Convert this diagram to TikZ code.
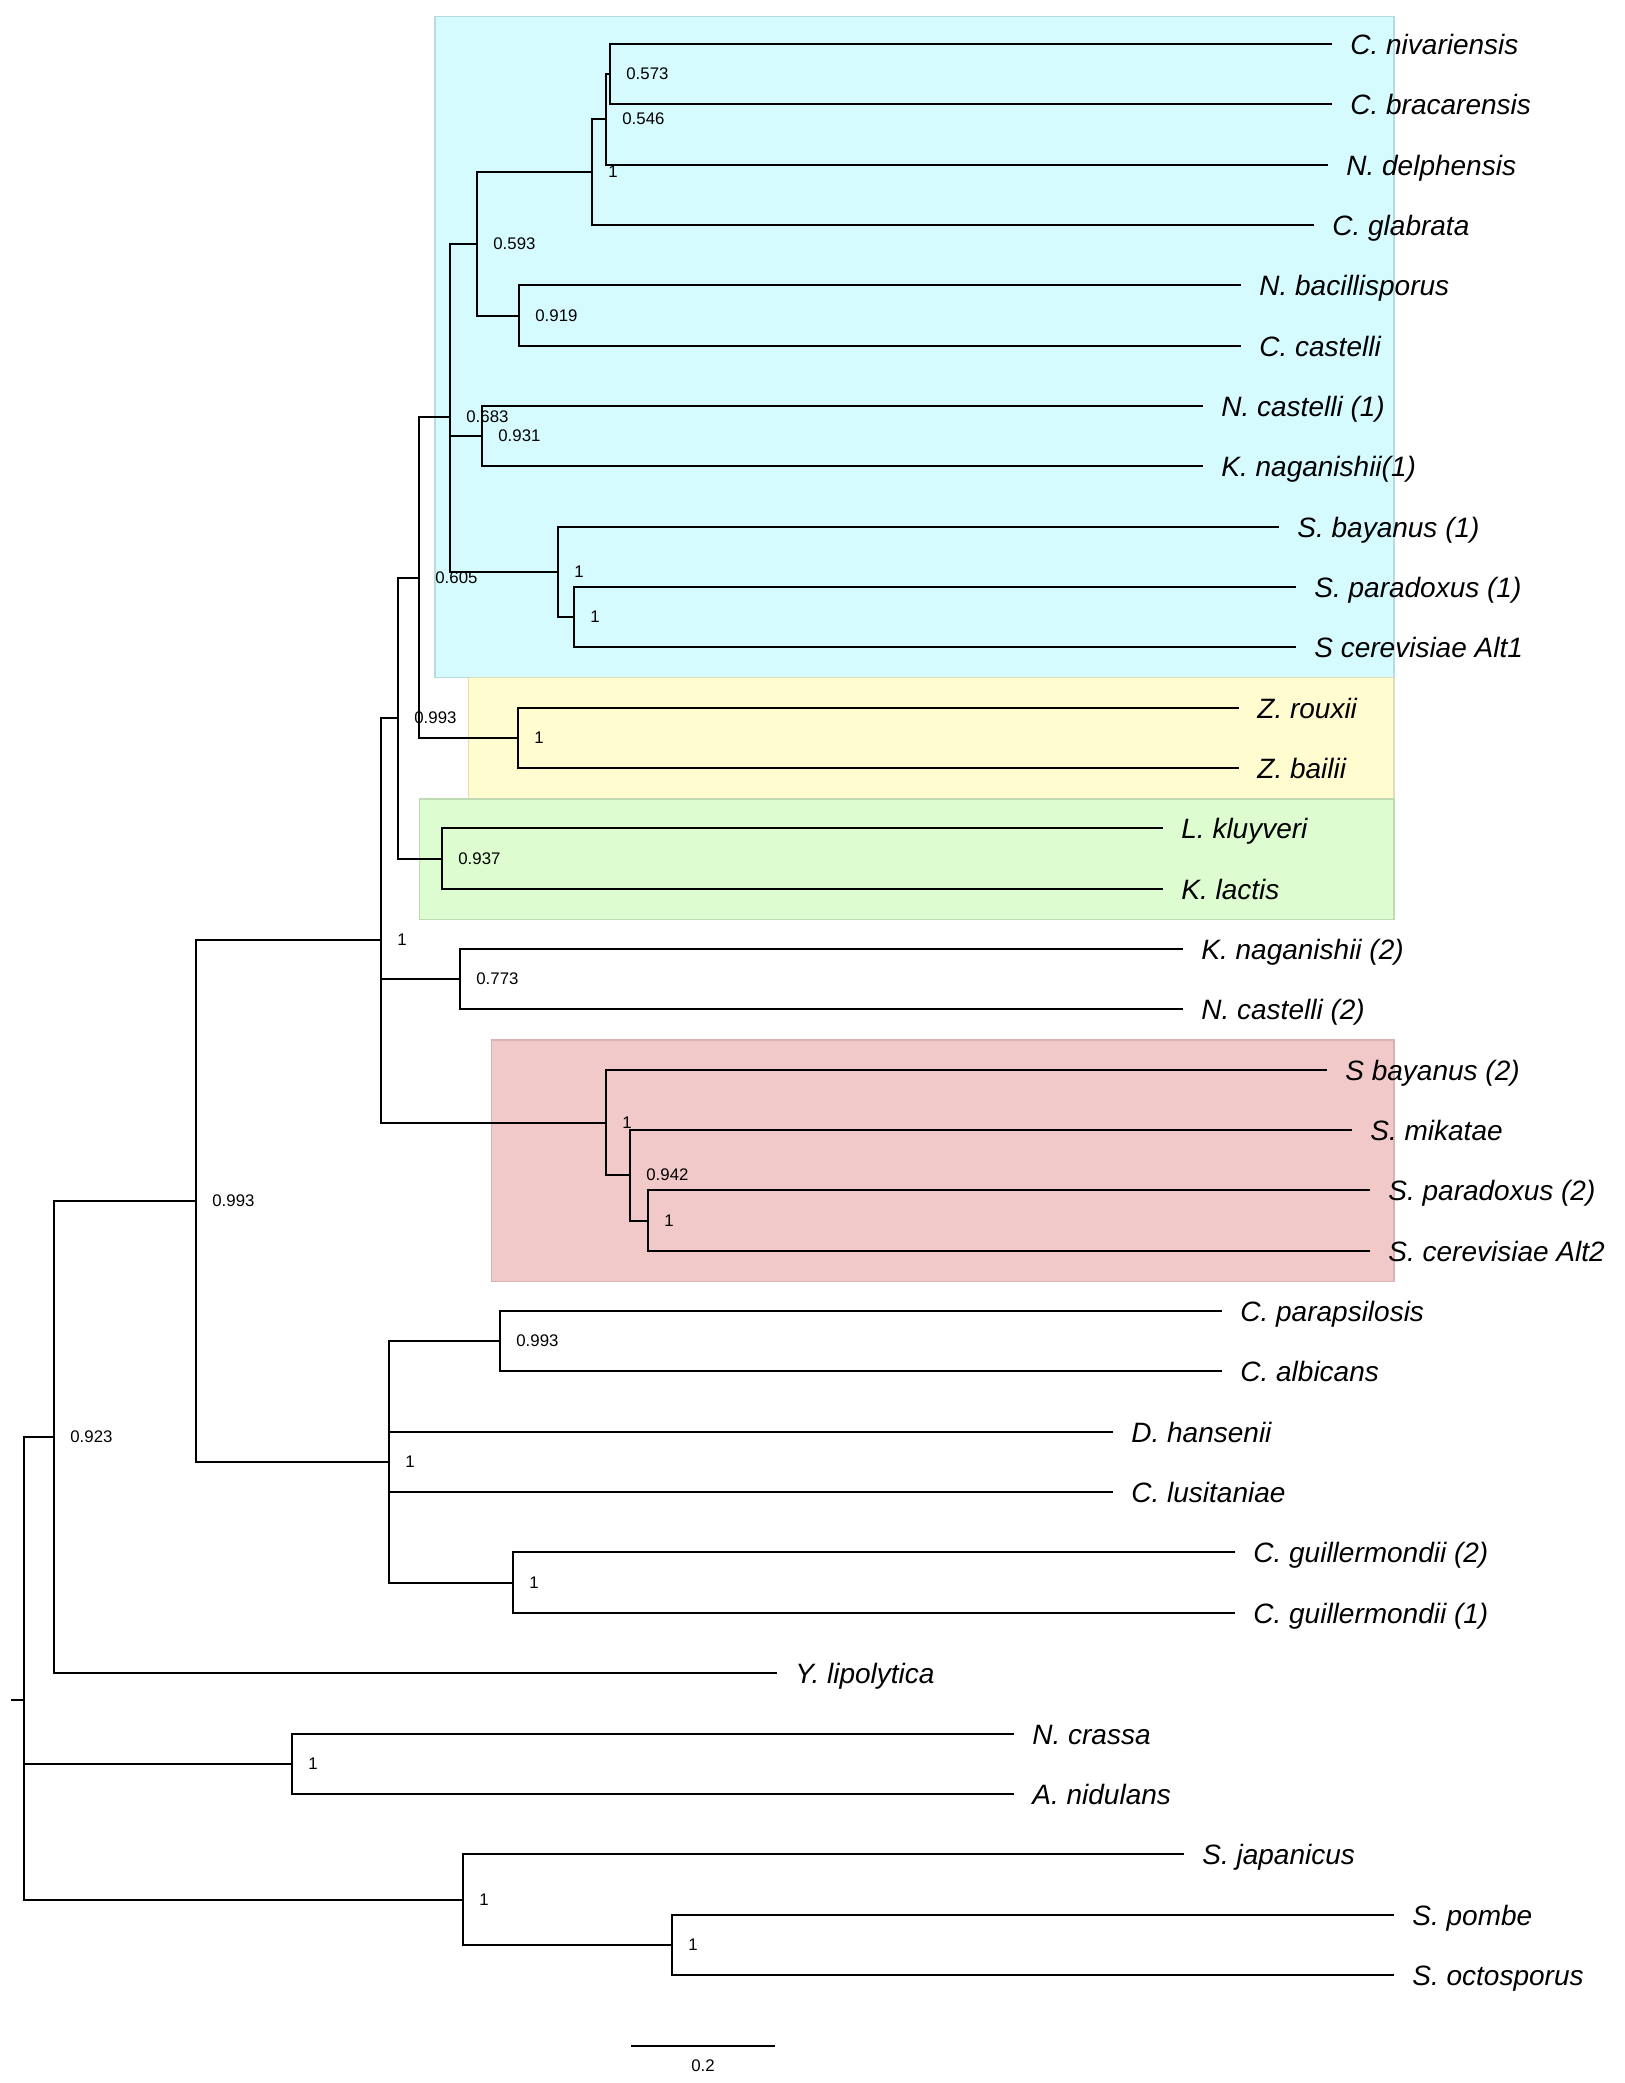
\documentclass[tikz,border=0pt]{standalone}
\usepackage{fontspec}
\setmainfont{Liberation Sans}
\usepackage{tikz}
\usetikzlibrary{positioning, calc}
\definecolor{cladecyan}{HTML}{D6FBFF}
\definecolor{cladecyanline}{HTML}{B6DCE0}
\definecolor{cladeyellow}{HTML}{FFFDCF}
\definecolor{cladeyellowline}{HTML}{DEDCB9}
\definecolor{cladegreen}{HTML}{DDFCCF}
\definecolor{cladegreenline}{HTML}{BFDBB5}
\definecolor{cladepink}{HTML}{F2C9C9}
\definecolor{cladepinkline}{HTML}{D8B3B3}

\begin{document}
\begin{tikzpicture}[x=0.5pt, y=-0.5pt,
    branch/.style={line width=0.8pt, black},
    clade/.style={line width=0.6pt},
    taxon/.style={inner sep=0pt, text height=10pt, text depth=0pt,
      font=\fontsize{14pt}{16pt}\selectfont\itshape},
    support/.style={inner sep=0pt, font=\fontsize{8.4pt}{10pt}\selectfont}]

    \useasboundingbox (0,0) rectangle (1624,2083);

    % Clade boxes
    \draw[clade, fill=cladecyan, draw=cladecyanline] (435,16.5) rectangle (1394,677.5);
    \draw[clade, fill=cladeyellow, draw=cladeyellowline] (468.5,677.5) rectangle (1394,799);
    \draw[clade, fill=cladegreen, draw=cladegreenline] (419.5,799) rectangle (1394,919.5);
    \draw[clade, fill=cladepink, draw=cladepinkline] (491.5,1040) rectangle (1394,1281.5);

    % Tips
    \coordinate (t1) at (1332,44);
    \coordinate (t2) at (1332,104);
    \coordinate (t3) at (1328,165);
    \coordinate (t4) at (1314,225);
    \coordinate (t5) at (1241,285);
    \coordinate (t6) at (1241,346);
    \coordinate (t7) at (1203,406);
    \coordinate (t8) at (1203,466);
    \coordinate (t9) at (1279,527);
    \coordinate (t10) at (1296,587);
    \coordinate (t11) at (1296,647);
    \coordinate (t12) at (1239,708);
    \coordinate (t13) at (1239,768);
    \coordinate (t14) at (1163,828);
    \coordinate (t15) at (1163,889);
    \coordinate (t16) at (1183,949);
    \coordinate (t17) at (1183,1009);
    \coordinate (t18) at (1327,1070);
    \coordinate (t19) at (1352,1130);
    \coordinate (t20) at (1370,1190);
    \coordinate (t21) at (1370,1251);
    \coordinate (t22) at (1222,1311);
    \coordinate (t23) at (1222,1371);
    \coordinate (t24) at (1113,1432);
    \coordinate (t25) at (1113,1492);
    \coordinate (t26) at (1235,1552);
    \coordinate (t27) at (1235,1613);
    \coordinate (t28) at (777,1673);
    \coordinate (t29) at (1014,1734);
    \coordinate (t30) at (1014,1794);
    \coordinate (t31) at (1184,1854);
    \coordinate (t32) at (1394,1915);
    \coordinate (t33) at (1394,1975);

    % Inner nodes
    \coordinate (na) at (610,74);
    \coordinate (nb) at (606,119);
    \coordinate (nc) at (592,172);
    \coordinate (nd) at (519,316);
    \coordinate (ne) at (477,244);
    \coordinate (nf) at (482,436);
    \coordinate (ng) at (574,617);
    \coordinate (nh) at (558,572);
    \coordinate (ni) at (450,417);
    \coordinate (nj) at (518,738);
    \coordinate (nk) at (419,578);
    \coordinate (nl) at (442,859);
    \coordinate (nm) at (398,718);
    \coordinate (nn) at (460,979);
    \coordinate (no) at (648,1221);
    \coordinate (np) at (630,1175);
    \coordinate (nq) at (606,1123);
    \coordinate (nr) at (381,940);
    \coordinate (ns) at (500,1341);
    \coordinate (nt) at (513,1583);
    \coordinate (nu) at (389,1462);
    \coordinate (nv) at (196,1201);
    \coordinate (nw) at (54,1437);
    \coordinate (nx) at (292,1764);
    \coordinate (ny) at (672,1945);
    \coordinate (nz) at (463,1900);
    \coordinate (root) at (24,1700);
    \coordinate (stub) at (11,1700);

    % Branches
    \draw[branch] (na) |- (t1) (na) |- (t2);
    \draw[branch] (nb) |- (na) (nb) |- (t3);
    \draw[branch] (nc) |- (nb) (nc) |- (t4);
    \draw[branch] (nd) |- (t5) (nd) |- (t6);
    \draw[branch] (ne) |- (nc) (ne) |- (nd);
    \draw[branch] (nf) |- (t7) (nf) |- (t8);
    \draw[branch] (ng) |- (t10) (ng) |- (t11);
    \draw[branch] (nh) |- (t9) (nh) |- (ng);
    \draw[branch] (ni) |- (ne) (ni) |- (nf) (ni) |- (nh);
    \draw[branch] (nj) |- (t12) (nj) |- (t13);
    \draw[branch] (nk) |- (ni) (nk) |- (nj);
    \draw[branch] (nl) |- (t14) (nl) |- (t15);
    \draw[branch] (nm) |- (nk) (nm) |- (nl);
    \draw[branch] (nn) |- (t16) (nn) |- (t17);
    \draw[branch] (no) |- (t20) (no) |- (t21);
    \draw[branch] (np) |- (t19) (np) |- (no);
    \draw[branch] (nq) |- (t18) (nq) |- (np);
    \draw[branch] (nr) |- (nm) (nr) |- (nn) (nr) |- (nq);
    \draw[branch] (ns) |- (t22) (ns) |- (t23);
    \draw[branch] (nt) |- (t26) (nt) |- (t27);
    \draw[branch] (nu) |- (ns) (nu) |- (t24) (nu) |- (t25) (nu) |- (nt);
    \draw[branch] (nv) |- (nr) (nv) |- (nu);
    \draw[branch] (nw) |- (nv) (nw) |- (t28);
    \draw[branch] (nx) |- (t29) (nx) |- (t30);
    \draw[branch] (ny) |- (t32) (ny) |- (t33);
    \draw[branch] (nz) |- (t31) (nz) |- (ny);
    \draw[branch] (root) |- (nw) (root) |- (nx) (root) |- (nz);
    \draw[branch] (stub) -- (root);

    % Taxa
    \node[taxon, right=9pt of t1] (l1) {C. nivariensis};
    \node[taxon, right=9pt of t2] (l2) {C. bracarensis};
    \node[taxon, right=9pt of t3] (l3) {N. delphensis};
    \node[taxon, right=9pt of t4] (l4) {C. glabrata};
    \node[taxon, right=9pt of t5] (l5) {N. bacillisporus};
    \node[taxon, right=9pt of t6] (l6) {C. castelli};
    \node[taxon, right=9pt of t7] (l7) {N. castelli (1)};
    \node[taxon, right=9pt of t8] (l8) {K. naganishii(1)};
    \node[taxon, right=9pt of t9] (l9) {S. bayanus (1)};
    \node[taxon, right=9pt of t10] (l10) {S. paradoxus (1)};
    \node[taxon, right=9pt of t11] (l11) {S cerevisiae Alt1};
    \node[taxon, right=9pt of t12] (l12) {Z. rouxii};
    \node[taxon, right=9pt of t13] (l13) {Z. bailii};
    \node[taxon, right=9pt of t14] (l14) {L. kluyveri};
    \node[taxon, right=9pt of t15] (l15) {K. lactis};
    \node[taxon, right=9pt of t16] (l16) {K. naganishii (2)};
    \node[taxon, right=9pt of t17] (l17) {N. castelli (2)};
    \node[taxon, right=9pt of t18] (l18) {S bayanus (2)};
    \node[taxon, right=9pt of t19] (l19) {S. mikatae};
    \node[taxon, right=9pt of t20] (l20) {S. paradoxus (2)};
    \node[taxon, right=9pt of t21] (l21) {S. cerevisiae Alt2};
    \node[taxon, right=9pt of t22] (l22) {C. parapsilosis};
    \node[taxon, right=9pt of t23] (l23) {C. albicans};
    \node[taxon, right=9pt of t24] (l24) {D. hansenii};
    \node[taxon, right=9pt of t25] (l25) {C. lusitaniae};
    \node[taxon, right=9pt of t26] (l26) {C. guillermondii (2)};
    \node[taxon, right=9pt of t27] (l27) {C. guillermondii (1)};
    \node[taxon, right=9pt of t28] (l28) {Y. lipolytica};
    \node[taxon, right=9pt of t29] (l29) {N. crassa};
    \node[taxon, right=9pt of t30] (l30) {A. nidulans};
    \node[taxon, right=9pt of t31] (l31) {S. japanicus};
    \node[taxon, right=9pt of t32] (l32) {S. pombe};
    \node[taxon, right=9pt of t33] (l33) {S. octosporus};

    % Support values
    \node[support, right=8pt of na] (sa) {0.573};
    \node[support, right=8pt of nb] (sb) {0.546};
    \node[support, right=8pt of nc] (sc) {1};
    \node[support, right=8pt of nd] (sd) {0.919};
    \node[support, right=8pt of ne] (se) {0.593};
    \node[support, right=8pt of nf] (sf) {0.931};
    \node[support, right=8pt of ng] (sg) {1};
    \node[support, right=8pt of nh] (sh) {1};
    \node[support, right=8pt of ni] (si) {0.683};
    \node[support, right=8pt of nj] (sj) {1};
    \node[support, right=8pt of nk] (sk) {0.605};
    \node[support, right=8pt of nl] (sl) {0.937};
    \node[support, right=8pt of nm] (sm) {0.993};
    \node[support, right=8pt of nn] (sn) {0.773};
    \node[support, right=8pt of no] (so) {1};
    \node[support, right=8pt of np] (sp) {0.942};
    \node[support, right=8pt of nq] (sq) {1};
    \node[support, right=8pt of nr] (sr) {1};
    \node[support, right=8pt of ns] (ss) {0.993};
    \node[support, right=8pt of nt] (st) {1};
    \node[support, right=8pt of nu] (su) {1};
    \node[support, right=8pt of nv] (sv) {0.993};
    \node[support, right=8pt of nw] (sw) {0.923};
    \node[support, right=8pt of nx] (sx) {1};
    \node[support, right=8pt of ny] (sy) {1};
    \node[support, right=8pt of nz] (sz) {1};

    % Scale bar
    \coordinate (sbl) at (631,2046);
    \coordinate (sbr) at (775,2046);
    \draw[branch] (sbl) -- (sbr);
    \node[support, anchor=north] (sbt) at ($(sbl)!0.5!(sbr)+(0,13)$) {0.2};
\end{tikzpicture}
\end{document}
